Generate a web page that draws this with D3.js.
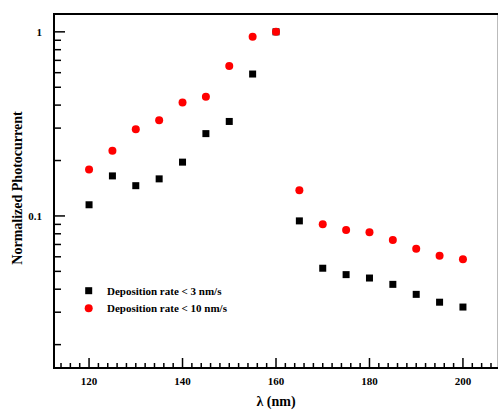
<!DOCTYPE html>
<html>
<head>
<meta charset="utf-8">
<script src="https://cdn.jsdelivr.net/npm/d3@7"></script>
<style>
  body { margin: 0; background: #fff; }
</style>
</head>
<body>
<div id="chart"></div>
<script>
const wavelengths = [120, 125, 130, 135, 140, 145, 150, 155, 160, 165, 170, 175, 180, 185, 190, 195, 200];
const rateBelow3 = [0.115, 0.165, 0.146, 0.159, 0.196, 0.28, 0.326, 0.59, 1.0, 0.094, 0.052, 0.048, 0.046, 0.0425, 0.0375, 0.034, 0.032];
const rateBelow10 = [0.179, 0.226, 0.296, 0.331, 0.413, 0.444, 0.652, 0.94, 1.0, 0.138, 0.090, 0.084, 0.0815, 0.074, 0.0664, 0.0607, 0.0582];
const xTicks = [120, 140, 160, 180, 200];
const yTickLabels = [1, 0.1];
const legendLabels = ["Deposition rate < 3 nm/s", "Deposition rate < 10 nm/s"];

const W = 499, H = 412;
const margin = { top: 14, right: 1, bottom: 44, left: 54 };
const serif = "'Liberation Serif', 'Times New Roman', 'DejaVu Serif', serif";

const svg = d3.select("#chart").append("svg")
  .attr("width", W).attr("height", H)
  .attr("font-family", serif)
  .attr("font-weight", "bold");

const x = d3.scaleLinear().domain([112.5, 207.5]).range([margin.left, W - margin.right]);
const y = d3.scaleLog().domain([0.01493, 1.25]).range([H - margin.bottom, margin.top]);

// minor y ticks (log)
const yMinor = [];
[0.01, 0.1].forEach(dec => {
  for (let k = 2; k <= 9; k++) {
    const v = dec * k;
    if (v >= y.domain()[0] && v <= y.domain()[1]) yMinor.push(v);
  }
});

const left = margin.left, bottom = H - margin.bottom;

// y ticks pointing inward
svg.append("g").selectAll("line").data(yMinor).join("line")
  .attr("x1", left).attr("x2", left + 7)
  .attr("y1", d => y(d)).attr("y2", d => y(d))
  .attr("stroke", "#000").attr("stroke-width", 1.5);
svg.append("g").selectAll("line").data(yTickLabels).join("line")
  .attr("x1", left).attr("x2", left + 11)
  .attr("y1", d => y(d)).attr("y2", d => y(d))
  .attr("stroke", "#000").attr("stroke-width", 1.5);
svg.append("g").selectAll("text").data(yTickLabels).join("text")
  .attr("x", 42).attr("y", d => y(d) + 4)
  .attr("text-anchor", "end")
  .attr("font-family", serif)
  .style("font-size", "11px")
  .text(d => d);

// x ticks
const xMinor = d3.range(114, 207, 2).filter(v => v % 20 !== 0);
svg.append("g").selectAll("line").data(xMinor).join("line")
  .attr("x1", d => x(d)).attr("x2", d => x(d))
  .attr("y1", bottom).attr("y2", bottom - 5)
  .attr("stroke", "#000").attr("stroke-width", 1.5);
svg.append("g").selectAll("line").data(xTicks).join("line")
  .attr("x1", d => x(d)).attr("x2", d => x(d))
  .attr("y1", bottom).attr("y2", bottom - 10)
  .attr("stroke", "#000").attr("stroke-width", 1.5);
svg.append("g").selectAll("text").data(xTicks).join("text")
  .attr("x", d => x(d)).attr("y", bottom + 17)
  .attr("text-anchor", "middle")
  .attr("font-family", serif)
  .style("font-size", "11px")
  .text(d => d);

// frame
svg.append("line").attr("x1", W - 1.5).attr("x2", W - 1.5).attr("y1", margin.top).attr("y2", bottom)
  .attr("stroke", "#bbb").attr("stroke-width", 1);
svg.append("line").attr("x1", left).attr("x2", W - 1).attr("y1", margin.top).attr("y2", margin.top)
  .attr("stroke", "#000").attr("stroke-width", 2);
svg.append("line").attr("x1", left).attr("x2", left).attr("y1", margin.top - 1).attr("y2", bottom + 1)
  .attr("stroke", "#000").attr("stroke-width", 2);
svg.append("line").attr("x1", left).attr("x2", W - 1).attr("y1", bottom).attr("y2", bottom)
  .attr("stroke", "#000").attr("stroke-width", 2);

// data
const sq = 7;
svg.append("g").selectAll("rect").data(wavelengths.map((w, i) => [w, rateBelow3[i]])).join("rect")
  .attr("x", d => x(d[0]) - sq / 2).attr("y", d => y(d[1]) - sq / 2)
  .attr("width", sq).attr("height", sq)
  .attr("fill", "#000");
svg.append("g").selectAll("circle").data(wavelengths.map((w, i) => [w, rateBelow10[i]])).join("circle")
  .attr("cx", d => x(d[0])).attr("cy", d => y(d[1]))
  .attr("r", 4)
  .attr("fill", "#ff0000");

// legend
const lg = svg.append("g");
lg.append("rect").attr("x", 88.7 - sq / 2).attr("y", 290.7 - sq / 2).attr("width", sq).attr("height", sq).attr("fill", "#000");
lg.append("circle").attr("cx", 88.7).attr("cy", 308.3).attr("r", 4).attr("fill", "#ff0000");
lg.selectAll("text").data(legendLabels).join("text")
  .attr("x", 107).attr("y", (d, i) => 294.5 + i * 17.6)
  .attr("font-family", serif)
  .style("font-size", "11px")
  .text(d => d);

// axis titles
svg.append("text")
  .attr("transform", "translate(22,188) rotate(-90)")
  .attr("text-anchor", "middle")
  .attr("font-family", serif)
  .style("font-size", "14px")
  .text("Normalized Photocurrent");
svg.append("text")
  .attr("x", 276).attr("y", 406)
  .attr("text-anchor", "middle")
  .attr("font-family", serif)
  .style("font-size", "14px")
  .text("λ (nm)");
</script>
</body>
</html>
